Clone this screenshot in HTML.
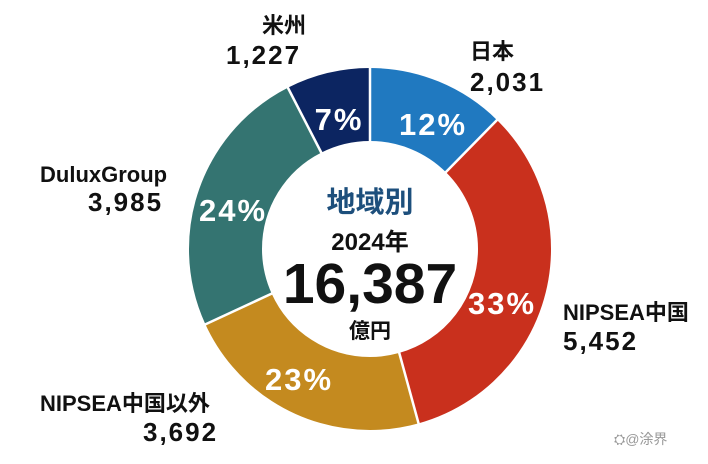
<!DOCTYPE html>
<html><head><meta charset="utf-8"><style>
body{margin:0;background:#fff;}
svg text{font-family:"Liberation Sans","Noto Sans CJK JP",sans-serif;}
</style></head><body>
<svg width="708" height="459" viewBox="0 0 708 459">
<g transform="rotate(-90 370 249)" fill="none" stroke-width="73">
<circle cx="370" cy="249" r="144.5" stroke="#2079c0" stroke-dasharray="112.53 907.9" stroke-dashoffset="0"/>
<circle cx="370" cy="249" r="144.5" stroke="#c9301d" stroke-dasharray="302.06 907.9" stroke-dashoffset="-112.53"/>
<circle cx="370" cy="249" r="144.5" stroke="#c48a1f" stroke-dasharray="204.55 907.9" stroke-dashoffset="-414.59"/>
<circle cx="370" cy="249" r="144.5" stroke="#347471" stroke-dasharray="220.78 907.9" stroke-dashoffset="-619.14"/>
<circle cx="370" cy="249" r="144.5" stroke="#0c2561" stroke-dasharray="67.98 907.9" stroke-dashoffset="-839.92"/>
</g>
<g stroke="#fff" stroke-width="2.5">
<line x1="370" y1="66" x2="370" y2="143"/>
<line x1="498" y1="119" x2="445" y2="173"/>
<line x1="419" y1="425" x2="399" y2="352"/>
<line x1="204" y1="325" x2="273" y2="293"/>
<line x1="287" y1="86" x2="322" y2="154"/>
</g>
<g fill="#fff" font-weight="bold" font-size="31" text-anchor="middle" letter-spacing="2">
<text x="433" y="135">12%</text>
<text x="339" y="130">7%</text>
<text x="233" y="221">24%</text>
<text x="502" y="314">33%</text>
<text x="299" y="390">23%</text>
</g>
<g text-anchor="middle">
<text x="370" y="212" font-size="29" font-weight="bold" fill="#1d4f7c">地域別</text>
<text x="370" y="250" font-size="24" font-weight="bold" fill="#111">2024年</text>
<text x="370" y="303" font-size="57" font-weight="bold" fill="#111">16,387</text>
<text x="370" y="338" font-size="21" font-weight="bold" fill="#111">億円</text>
</g>
<g fill="#111" font-weight="bold" font-size="26">
<text x="262" y="33" font-size="22">米州</text>
<text x="226" y="64" letter-spacing="2">1,227</text>
<text x="470" y="59" font-size="22">日本</text>
<text x="470" y="91" letter-spacing="2">2,031</text>
<text x="40" y="182" font-size="22">DuluxGroup</text>
<text x="88" y="211" letter-spacing="2">3,985</text>
<text x="563" y="320" font-size="22">NIPSEA中国</text>
<text x="563" y="350" letter-spacing="2">5,452</text>
<text x="40" y="411" font-size="22">NIPSEA中国以外</text>
<text x="143" y="441" letter-spacing="2">3,692</text>
</g>
<text x="614" y="444" font-size="14" fill="#999">⛭@涂界</text>
</svg>
</body></html>
